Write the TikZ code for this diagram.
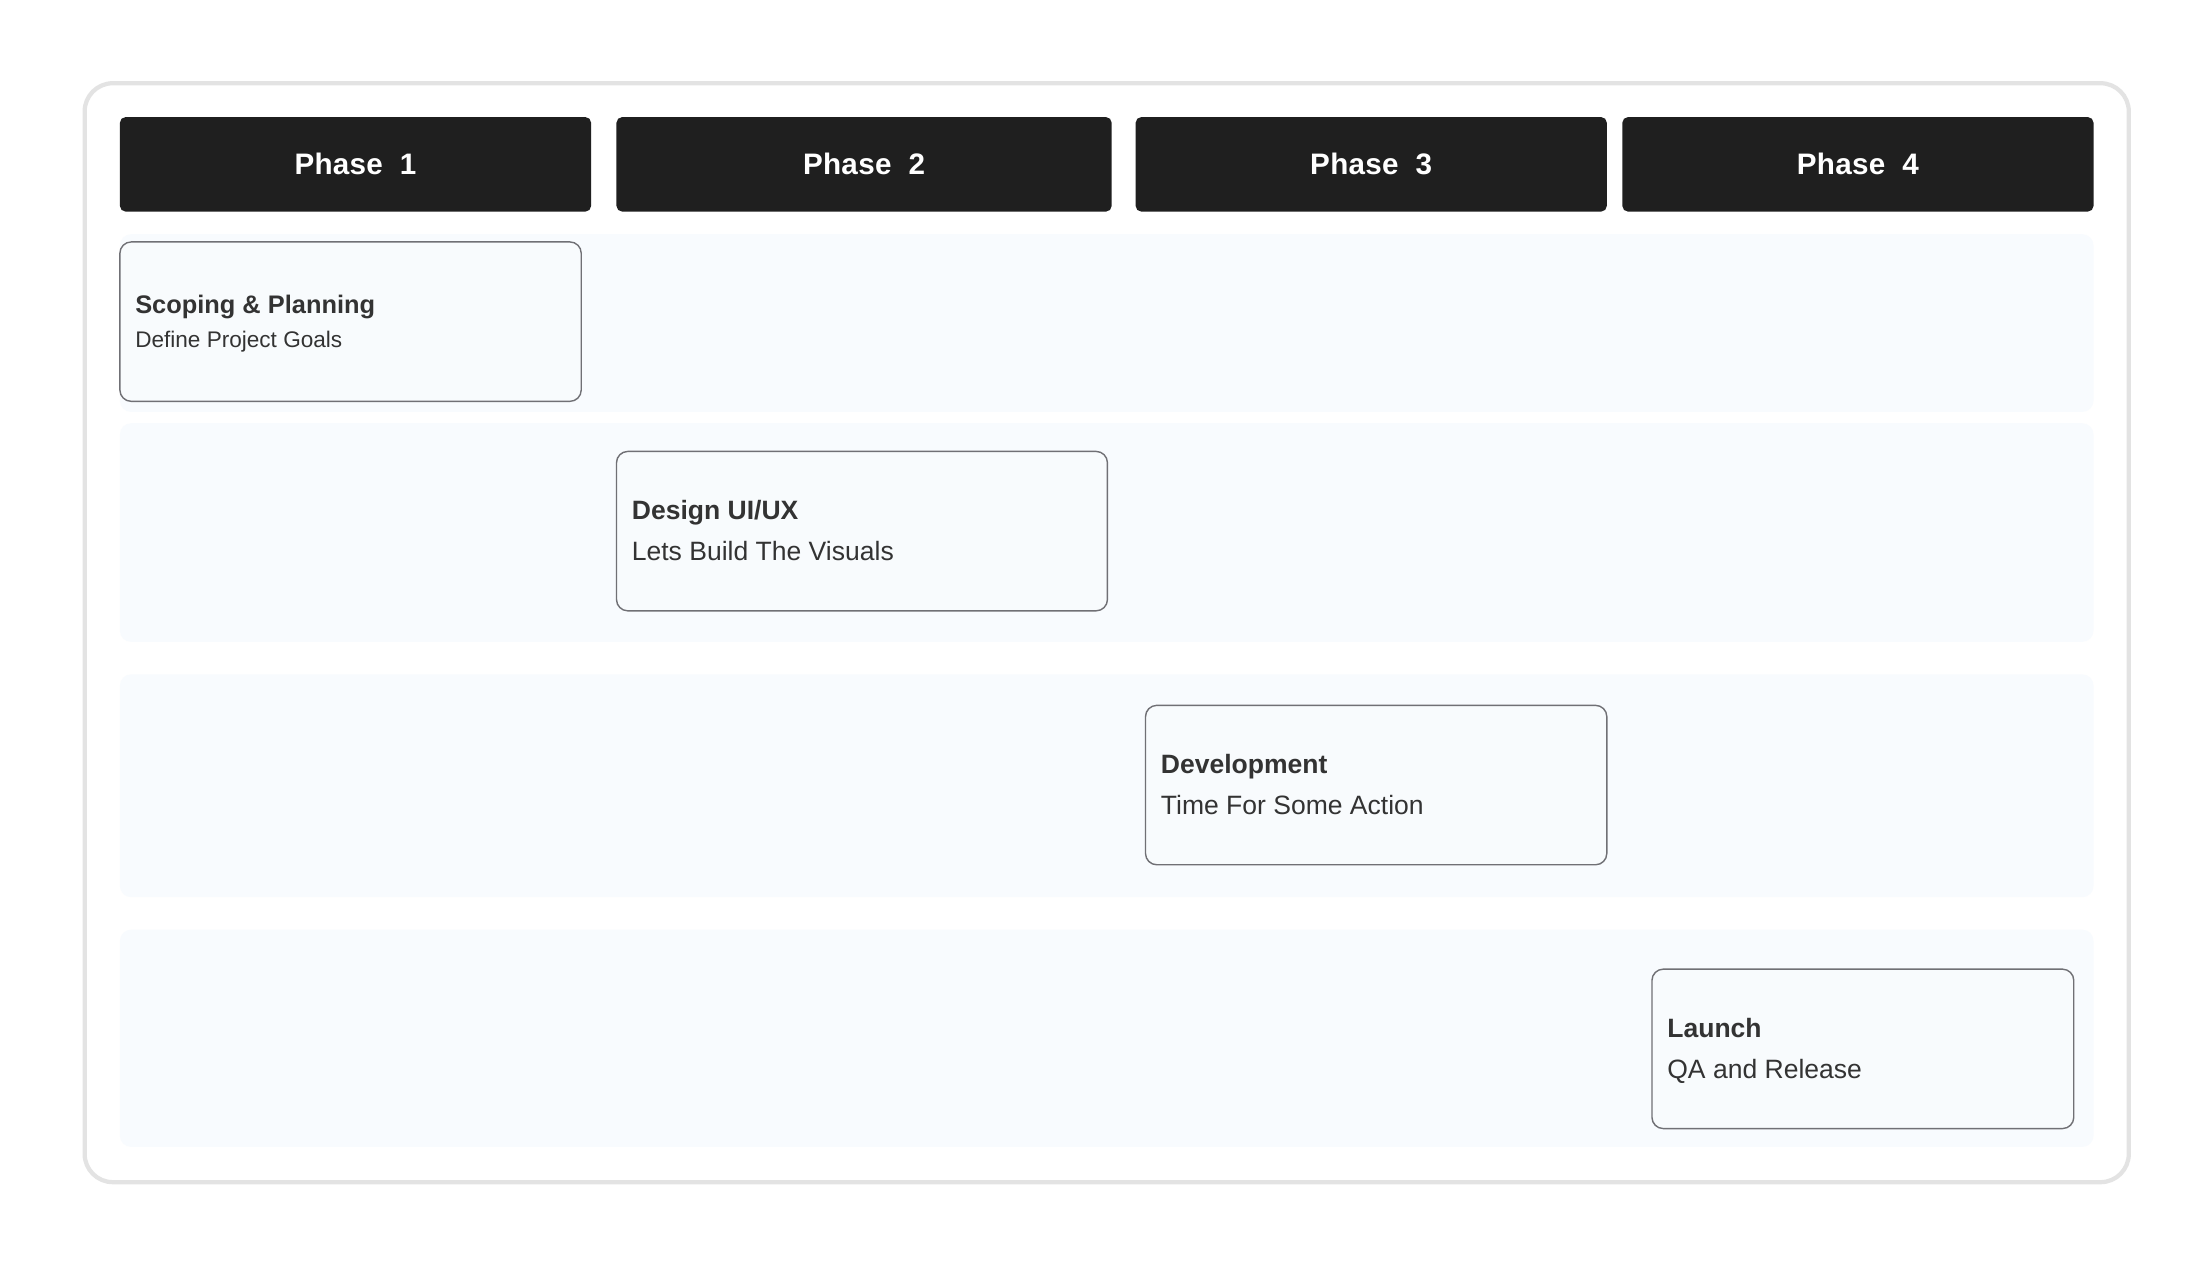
\documentclass[tikz,border=0pt]{standalone}
\usepackage{fontspec}
\setmainfont{Liberation Sans}
\newfontfamily\headfont[LetterSpace=1]{Liberation Sans}
\usepackage{xcolor}
\usepackage{tikz}

\definecolor{headfill}{HTML}{1F1F1F}
\definecolor{framegray}{HTML}{E3E3E3}
\definecolor{bandfill}{HTML}{F8FBFE}
\definecolor{cardfill}{HTML}{F8FBFD}
\definecolor{cardline}{HTML}{707075}
\definecolor{inktext}{HTML}{333333}

\tikzset{
	phasebox/.style={fill=headfill, rounded corners=2pt, inner sep=0pt, minimum height=33.5pt,
		text=white, font=\headfont\bfseries\fontsize{10.5}{12}\selectfont},
	band/.style={fill=bandfill, rounded corners=4pt},
	card/.style={draw=cardline, line width=0.5pt, fill=cardfill, rounded corners=4pt, inner sep=0pt, minimum height=56.5pt},
	cardtitle/.style={anchor=base west, inner sep=0pt, text=inktext, font=\bfseries\fontsize{9.4}{11}\selectfont},
	cardsub/.style={anchor=base west, inner sep=0pt, text=inktext, font=\fontsize{9.4}{11}\selectfont}
}

\begin{document}
\begin{tikzpicture}[x=0.5pt,y=-0.5pt]
				\useasboundingbox[fill=white] (0,0) rectangle (1568,897.4);
				
				% outer frame
				\draw[framegray, line width=1.5pt, rounded corners=10pt] (60,59) rectangle (1509,838);
				
				% header row
				\foreach \n/\a/\b in
				{1/85/419, 2/437/788, 3/805/1139, 4/1150/1484}{
					\pgfmathsetmacro\w{(\b-\a)/2}
					\node[phasebox, minimum width=\w pt] (phase\n) at ({(\a+\b)/2},116.5) {Phase\ \ \n};
				}
				
				% rows
				\foreach \t/\b in
				{166/292, 300/455, 478/636, 659/813}{
					\fill[band] (85,\t) rectangle (1484,\b);
				}
				
				% cards
				\node[card, minimum width=163.5pt] (scoping) at (248.5,228) {};
				\node[card, minimum width=174pt] (design) at (611,376.5) {};
				\node[card, minimum width=163.5pt] (develop) at (975.5,556.5) {};
				\node[card, minimum width=149.5pt] (launch) at (1320.5,743.5) {};
				
				% card texts
				\node[cardtitle, font=\bfseries\fontsize{9}{11}\selectfont] (scopingtitle) at ([xshift=5.5pt, yshift=-25.5pt]scoping.north west) {Scoping \& Planning};
				\node[cardsub, font=\fontsize{8}{10}\selectfont] (scopingsub) at ([xshift=5.5pt, yshift=-37.5pt]scoping.north west) {Define Project Goals};
				\foreach \x/\y/\z in
				{design/Design UI\slash UX/Lets Build The Visuals, develop/Development/Time For Some Action, launch/Launch/QA and Release}{
					\node[cardtitle] (\x title) at ([xshift=5.5pt, yshift=-24.5pt]\x.north west) {\y};
					\node[cardsub] (\x sub) at ([xshift=5.5pt, yshift=-39pt]\x.north west) {\z};
				}
			\end{tikzpicture}
\end{document}
